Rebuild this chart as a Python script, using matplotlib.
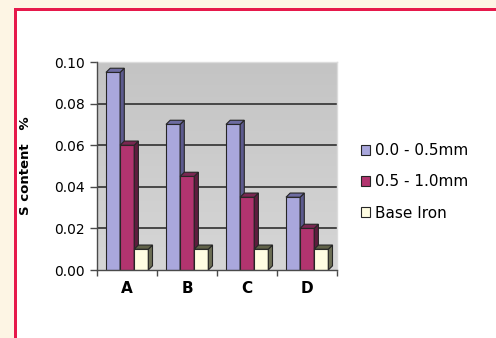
import matplotlib
matplotlib.use("Agg")
import matplotlib.pyplot as plt
import numpy as np
from matplotlib.patches import Polygon, Rectangle
from matplotlib.colors import LinearSegmentedColormap

# Sulphur content by sample and depth band
categories = ["A", "B", "C", "D"]
series_labels = ["0.0 - 0.5mm", "0.5 - 1.0mm", "Base Iron"]
band_0_05 = [0.095, 0.070, 0.070, 0.035]
band_05_10 = [0.060, 0.045, 0.035, 0.020]
base_iron = [0.010, 0.010, 0.010, 0.010]
y_ticks = [0.00, 0.02, 0.04, 0.06, 0.08, 0.10]
y_tick_labels = ["0.00", "0.02", "0.04", "0.06", "0.08", "0.10"]
y_label = "S content   %"

series_values = [band_0_05, band_05_10, base_iron]
front_colors = ["#A9A7DC", "#B2346F", "#FFFDE2"]
side_colors = ["#5C5A8E", "#5E1C3E", "#6C6E55"]
top_colors = ["#6E6CA2", "#7A2752", "#5F6148"]
edge_color = "#262626"

W, H = 496, 338
fig = plt.figure(figsize=(W / 100, H / 100), dpi=100, facecolor="#FDF5E4")

# white panel with a red frame on its top and left edges
panel = Rectangle((14.5 / W, -0.05), 1.1, 1 - 9 / H + 0.05,
                  transform=fig.transFigure, facecolor="white",
                  edgecolor="#E6194B", linewidth=3 * 0.72, clip_on=False,
                  zorder=-10)
fig.add_artist(panel)

ax = fig.add_axes([97 / W, 1 - 270 / H, 240 / W, 208 / H])
ax.set_xlim(0, len(categories))
ax.set_ylim(0, 0.10)

# grey back wall, slightly lighter towards the floor
wall = LinearSegmentedColormap.from_list("wall", ["#D6D6D6", "#C4C4C4"])
grad = np.linspace(0, 1, 256).reshape(-1, 1)
ax.imshow(grad, cmap=wall, origin="lower", aspect="auto",
          extent=(0, len(categories), 0, 0.10), zorder=0)

for yv in y_ticks[1:-1]:
    ax.axhline(yv, color="#3C3C3C", linewidth=1.3, zorder=1)

bar_w = 0.235
start = 0.15
dx = 0.07
dy = 0.0020

handles = []
for s, values in enumerate(series_values):
    lefts = [i + start + s * bar_w for i in range(len(categories))]
    bars = ax.bar(lefts, values, width=bar_w, align="edge",
                  color=front_colors[s], edgecolor=edge_color,
                  linewidth=0.8, zorder=3 + s, label=series_labels[s])
    handles.append(bars)
    for x0, v in zip(lefts, values):
        x1 = x0 + bar_w
        side = Polygon([(x1, 0), (x1 + dx, dy), (x1 + dx, v + dy), (x1, v)],
                       closed=True, facecolor=side_colors[s],
                       edgecolor=edge_color, linewidth=0.8, zorder=3 + s)
        top = Polygon([(x0, v), (x0 + dx, v + dy), (x1 + dx, v + dy), (x1, v)],
                      closed=True, facecolor=top_colors[s],
                      edgecolor=edge_color, linewidth=0.8, zorder=3 + s)
        ax.add_patch(side)
        ax.add_patch(top)

# axes styling
for name in ("top", "right"):
    ax.spines[name].set_color("#DCDCDC")
    ax.spines[name].set_linewidth(1.0)
for name in ("left", "bottom"):
    ax.spines[name].set_color("#4A4A4A")
    ax.spines[name].set_linewidth(1.0)
    ax.spines[name].set_zorder(10)

tick_font = dict(family="DejaVu Sans", size=10)
ax.set_yticks(y_ticks)
ax.set_yticklabels(y_tick_labels, **tick_font)
ax.tick_params(axis="y", direction="out", length=5, width=1,
               color="#4A4A4A", pad=4)

ax.set_xticks(range(len(categories) + 1))
ax.set_xticklabels([])
ax.tick_params(axis="x", which="major", direction="out", length=4,
               width=1, color="#4A4A4A")
ax.set_xticks([i + 0.5 for i in range(len(categories))], minor=True)
ax.set_xticklabels(categories, minor=True, family="DejaVu Sans",
                   size=11, fontweight="bold")
ax.tick_params(axis="x", which="minor", length=0, pad=8)

fig.text(26 / W, 1 - 166 / H, y_label, rotation=90, ha="center",
         va="center", family="DejaVu Sans", size=9.5, fontweight="bold")

fig.legend(handles, series_labels, loc="center left",
           bbox_to_anchor=(361 / W, 1 - 182 / H), frameon=False,
           prop=dict(family="DejaVu Sans", size=11),
           handlelength=0.6, handleheight=0.6, handletextpad=0.3,
           labelspacing=1.05, borderpad=0, borderaxespad=0)

fig.savefig("out.png", dpi=100, facecolor=fig.get_facecolor())
